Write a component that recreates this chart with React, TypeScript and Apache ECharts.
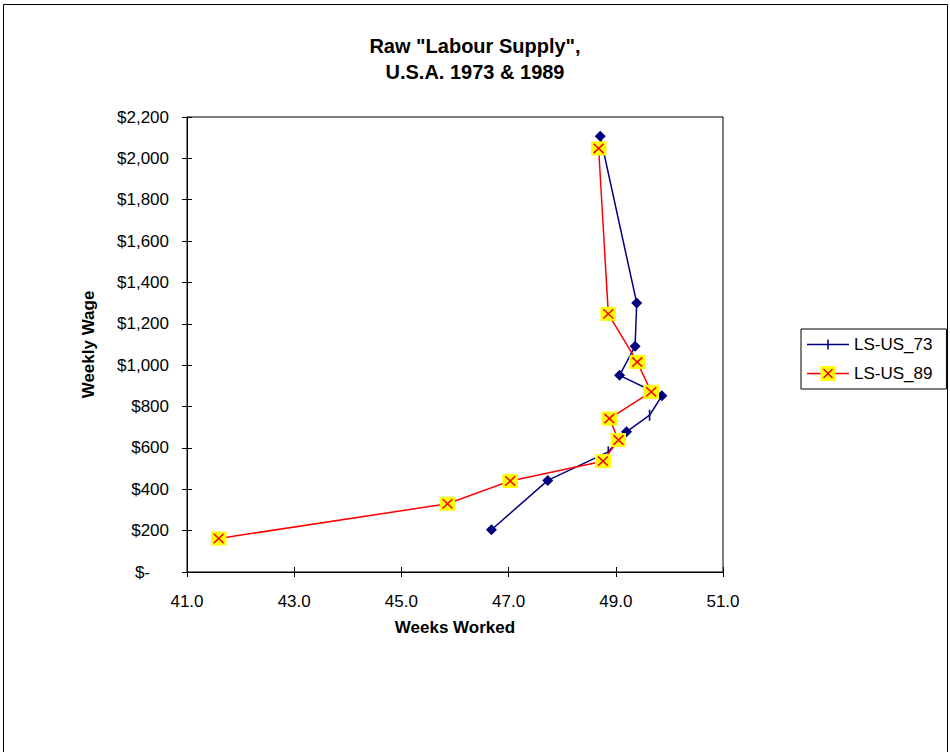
import React, { useEffect, useRef } from "react";
import * as echarts from "echarts";

// ---- data ----
const weeks73 = [46.68, 47.73, 48.86, 49.2, 49.63, 49.86, 49.07, 49.36, 49.39, 48.71];
const wage73 = [204, 443, 581, 678, 758, 852, 951, 1092, 1301, 2107];
const marker73 = ["diamond", "diamond", "tick", "diamond", "tick", "diamond", "diamond", "diamond", "diamond", "diamond"];

const weeks89 = [41.59, 45.86, 47.03, 48.76, 49.05, 48.88, 49.66, 49.4, 48.86, 48.68];
const wage89 = [162, 330, 440, 536, 638, 742, 871, 1015, 1248, 2048];

const seriesNames = ["LS-US_73", "LS-US_89"];
const titleLines = ['Raw "Labour Supply",', "U.S.A. 1973 & 1989"];
const xName = "Weeks Worked";
const yName = "Weekly Wage";
const xMin = 41;
const xMax = 51;
const xStep = 2;
const yMin = 0;
const yMax = 2200;
const yStep = 200;

const FONT = "'Liberation Sans', Arial, Helvetica, sans-serif";
const NAVY = "#000080";
const RED = "#FF0000";

const svgUri = (svg: string) => "image://data:image/svg+xml;charset=utf-8," + encodeURIComponent(svg);

const redMarkerSvg =
  '<svg xmlns="http://www.w3.org/2000/svg" width="16" height="15" viewBox="0 0 16 15">' +
  '<rect x="0" y="0" width="16" height="15" fill="#FFFF00"/>' +
  '<path d="M3 2.5 L13 12.5 M13 2.5 L3 12.5" stroke="#FF0000" stroke-width="1.6" fill="none"/>' +
  "</svg>";

const blueLegendSvg =
  '<svg xmlns="http://www.w3.org/2000/svg" width="42" height="16" viewBox="0 0 42 16">' +
  '<line x1="0" y1="8" x2="42" y2="8" stroke="#000080" stroke-width="1.5"/>' +
  '<rect x="20.2" y="3" width="1.6" height="10" fill="#000080"/>' +
  "</svg>";

const redLegendSvg =
  '<svg xmlns="http://www.w3.org/2000/svg" width="42" height="16" viewBox="0 0 42 16">' +
  '<line x1="0" y1="8" x2="42" y2="8" stroke="#FF0000" stroke-width="1.5"/>' +
  '<rect x="13.5" y="0.5" width="15" height="15" fill="#FFFF00"/>' +
  '<path d="M16.5 3.5 L25.5 12.5 M25.5 3.5 L16.5 12.5" stroke="#FF0000" stroke-width="1.6" fill="none"/>' +
  "</svg>";

export default function App() {
  const ref = useRef<HTMLDivElement>(null);

  useEffect(() => {
    if (!ref.current) return;
    const chart = echarts.init(ref.current, undefined, { renderer: "svg" });

    const data73 = weeks73.map((w, i) =>
      marker73[i] === "tick"
        ? { value: [w, wage73[i]], symbol: "rect", symbolSize: [1.6, 11] }
        : { value: [w, wage73[i]] }
    );
    const data89 = weeks89.map((w, i) => [w, wage89[i]]);

    const tickLabel = { fontFamily: FONT, fontSize: 17, color: "#000" };

    chart.setOption({
      animation: false,
      backgroundColor: "#fff",
      textStyle: { fontFamily: FONT },
      title: {
        text: titleLines.join("\n"),
        left: "center",
        top: 33,
        padding: 0,
        textStyle: { fontFamily: FONT, fontSize: 20, fontWeight: "bold", color: "#000", lineHeight: 26 },
      },
      graphic: [
        {
          type: "rect",
          silent: true,
          z: -10,
          shape: { x: 3.5, y: 4.5, width: 944, height: 800 },
          style: { fill: "none", stroke: "#000", lineWidth: 1 },
        },
      ],
      legend: {
        orient: "vertical",
        left: 801,
        top: 329,
        padding: [7, 14, 7, 6],
        itemGap: 12,
        itemWidth: 42,
        itemHeight: 16,
        borderColor: "#000",
        borderWidth: 1,
        backgroundColor: "#fff",
        textStyle: { fontFamily: FONT, fontSize: 17, color: "#000" },
        data: [
          { name: seriesNames[0], icon: svgUri(blueLegendSvg) },
          { name: seriesNames[1], icon: svgUri(redLegendSvg) },
        ],
      },
      grid: {
        left: 187,
        top: 117,
        width: 536,
        height: 455,
        show: true,
        borderColor: "#000",
        borderWidth: 1,
        backgroundColor: "transparent",
        containLabel: false,
      },
      xAxis: [
        {
          type: "value",
          min: xMin,
          max: xMax,
          interval: xStep,
          name: xName,
          nameLocation: "middle",
          nameGap: 47,
          nameTextStyle: { fontFamily: FONT, fontSize: 17, fontWeight: "bold", color: "#000", verticalAlign: "top" },
          axisLine: { show: true, lineStyle: { color: "#000", width: 1 } },
          axisTick: { show: true, length: 5, lineStyle: { color: "#000" } },
          axisLabel: { ...tickLabel, margin: 21, formatter: (v: number) => v.toFixed(1) },
          splitLine: { show: false },
        },
        {
          type: "value",
          min: xMin,
          max: xMax,
          interval: xStep,
          position: "bottom",
          axisLine: { show: false },
          axisTick: { show: true, inside: true, length: 5, lineStyle: { color: "#000" } },
          axisLabel: { show: false },
          splitLine: { show: false },
        },
      ],
      yAxis: [
        {
          type: "value",
          min: yMin,
          max: yMax,
          interval: yStep,
          name: yName,
          nameLocation: "middle",
          nameGap: 90,
          nameRotate: 90,
          nameTextStyle: { fontFamily: FONT, fontSize: 17, fontWeight: "bold", color: "#000" },
          axisLine: { show: true, lineStyle: { color: "#000", width: 1 } },
          axisTick: { show: true, length: 5, lineStyle: { color: "#000" } },
          axisLabel: {
            ...tickLabel,
            margin: 18,
            formatter: (v: number) => (v === 0 ? "{z|$-}" : "$" + v.toLocaleString("en-US")),
            rich: { z: { fontFamily: FONT, fontSize: 17, color: "#000", padding: [0, 19, 0, 0] } },
          },
          splitLine: { show: false },
        },
        {
          type: "value",
          min: yMin,
          max: yMax,
          interval: yStep,
          position: "left",
          axisLine: { show: false },
          axisTick: { show: true, inside: true, length: 5, lineStyle: { color: "#000" } },
          axisLabel: { show: false },
          splitLine: { show: false },
        },
      ],
      series: [
        {
          name: seriesNames[0],
          type: "line",
          xAxisIndex: 0,
          yAxisIndex: 0,
          data: data73,
          symbol: "diamond",
          symbolSize: [11, 11],
          showAllSymbol: true,
          lineStyle: { color: NAVY, width: 1.5 },
          itemStyle: { color: NAVY },
          z: 2,
        },
        {
          name: seriesNames[1],
          type: "line",
          xAxisIndex: 0,
          yAxisIndex: 0,
          data: data89,
          symbol: svgUri(redMarkerSvg),
          symbolSize: [16, 15],
          showAllSymbol: true,
          lineStyle: { color: RED, width: 1.5 },
          itemStyle: { color: RED },
          z: 3,
        },
      ],
    });

    return () => chart.dispose();
  }, []);

  return (
    <div
      ref={ref}
      style={{ position: "absolute", left: 0, top: 0, width: 950, height: 752, background: "#fff" }}
    />
  );
}
